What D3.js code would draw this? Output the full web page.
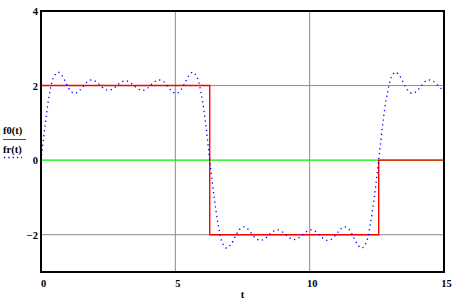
<!DOCTYPE html>
<html><head><meta charset="utf-8">
<script src="https://cdn.jsdelivr.net/npm/d3@7"></script>
<style>
html,body{margin:0;padding:0;background:#fff;}
text{font-family:"Liberation Serif","DejaVu Serif",serif;font-weight:bold;font-size:10.5px;fill:#000;}
</style></head>
<body><svg id="c" width="457" height="301"></svg>
<script>
// Square wave f0(t): step breakpoints
const stepT = [0, 0, 6.28, 6.28, 12.57, 12.57, 15];
const stepV = [1, 2, 2, -2, -2, 0, 0];
// Fourier reconstruction fr(t)
const fourT = [0,0.16,0.31,0.47,0.63,0.79,0.94,1.10,1.26,1.41,1.57,1.73,1.88,2.04,2.20,2.36,2.51,2.67,2.83,2.98,
  3.14,3.30,3.46,3.61,3.77,3.93,4.08,4.24,4.40,4.56,4.71,4.87,5.03,5.18,5.34,5.50,5.65,5.81,5.97,6.13,
  6.28,6.44,6.60,6.75,6.91,7.07,7.23,7.38,7.54,7.70,7.85,8.01,8.17,8.33,8.48,8.64,8.80,8.95,9.11,9.27,
  9.42,9.58,9.74,9.90,10.05,10.21,10.37,10.52,10.68,10.84,11.00,11.15,11.31,11.47,11.62,11.78,11.94,12.10,12.25,12.41,
  12.57,12.72,12.88,13.04,13.19,13.35,13.51,13.67,13.82,13.98,14.14,14.29,14.45,14.61,14.77,14.92,15];
const fourV = [0,0.97,1.75,2.22,2.36,2.26,2.05,1.86,1.79,1.85,1.98,2.11,2.15,2.11,2.01,1.91,1.87,1.91,2.00,2.09,
  2.13,2.09,2.00,1.91,1.87,1.91,2.01,2.11,2.15,2.11,1.98,1.85,1.79,1.86,2.05,2.26,2.36,2.22,1.75,0.97,
  0,-0.97,-1.75,-2.22,-2.36,-2.26,-2.05,-1.86,-1.79,-1.85,-1.98,-2.11,-2.15,-2.11,-2.01,-1.91,-1.87,-1.91,-2.00,-2.09,
  -2.13,-2.09,-2.00,-1.91,-1.87,-1.91,-2.01,-2.11,-2.15,-2.11,-1.98,-1.85,-1.79,-1.86,-2.05,-2.26,-2.36,-2.22,-1.75,-0.97,
  0,0.97,1.75,2.22,2.36,2.26,2.05,1.86,1.79,1.85,1.98,2.11,2.15,2.11,2.01,1.91,1.88];
const zeroT = [0, 15];
const zeroV = [0, 0];
const xTicks = [0, 5, 10, 15];
const yTicks = [-2, 0, 2, 4];
const xGrid = [5, 10];
const yGrid = [-2, 2];
const legendLabels = ["f0(t)", "fr(t)"];
const xTitle = "t";

const svg = d3.select("#c");
const L = 41, R = 444, T = 11, B = 272;
const x = d3.scaleLinear().domain([0, 15]).range([L, R]);
const y = d3.scaleLinear().domain([-3, 4]).range([B, T]);

// grid
const g = svg.append("g");
g.selectAll("line.vx").data(xGrid).join("line")
  .attr("x1", d => x(d)).attr("x2", d => x(d)).attr("y1", T).attr("y2", B)
  .attr("stroke", "#8c8c8c").attr("stroke-width", 1);
g.selectAll("line.hy").data(yGrid).join("line")
  .attr("x1", L).attr("x2", R).attr("y1", d => y(d)).attr("y2", d => y(d))
  .attr("stroke", "#8c8c8c").attr("stroke-width", 1);

svg.append("defs").append("clipPath").attr("id", "clip")
  .append("rect").attr("x", L).attr("y", T).attr("width", R - L).attr("height", B - T);

const stepData = stepT.map((t, i) => [t, stepV[i]]);
const fourData = fourT.map((t, i) => [t, fourV[i]]);
const zeroData = zeroT.map((t, i) => [t, zeroV[i]]);
const lin = d3.line().x(d => x(d[0])).y(d => y(d[1]));

svg.append("path").datum(zeroData)
  .attr("clip-path", "url(#clip)")
  .attr("d", lin)
  .attr("fill", "none").attr("stroke", "#00f000").attr("stroke-width", 1.4);

svg.append("path").datum(stepData)
  .attr("clip-path", "url(#clip)")
  .attr("d", lin)
  .attr("fill", "none").attr("stroke", "#ff0000").attr("stroke-width", 1.4);

svg.append("path").datum(fourData)
  .attr("clip-path", "url(#clip)")
  .attr("d", d3.line().curve(d3.curveCatmullRom.alpha(0.5)).x(d => x(d[0])).y(d => y(d[1])))
  .attr("fill", "none").attr("stroke", "#0000ff").attr("stroke-width", 1.3)
  .attr("stroke-dasharray", "1.3,3.5");

// frame
svg.append("rect").attr("x", L).attr("y", T).attr("width", R - L).attr("height", B - T)
  .attr("fill", "none").attr("stroke", "#000").attr("stroke-width", 2);

// axes labels
const fmt = d => (d < 0 ? "\u2212" : "") + Math.abs(d);
const ax = svg.append("g").attr("transform", `translate(0,${B + 12})`)
  .call(d3.axisBottom(x).tickValues(xTicks).tickSize(0).tickFormat(fmt));
ax.select(".domain").remove();
ax.selectAll("text").attr("dy", 0).attr("dx", 2);
ax.attr("font-family", null).attr("font-size", null);

const ay = svg.append("g").attr("transform", `translate(${L - 2},0)`)
  .call(d3.axisLeft(y).tickValues(yTicks).tickSize(0).tickFormat(fmt));
ay.select(".domain").remove();
ay.selectAll("text").attr("dy", "0.35em").attr("x", -1);
ay.attr("font-family", null).attr("font-size", null);

svg.append("text").attr("x", x(7.5)).attr("y", 298).attr("text-anchor", "middle").text(xTitle);

// legend
const leg = svg.append("g");
leg.append("text").attr("x", 3).attr("y", 134).text(legendLabels[0]);
leg.append("line").attr("x1", 3).attr("x2", 26).attr("y1", 139.5).attr("y2", 139.5)
  .attr("stroke", "#ff0000").attr("stroke-width", 1);
leg.append("text").attr("x", 3).attr("y", 153).text(legendLabels[1]);
leg.append("line").attr("x1", 4).attr("x2", 22).attr("y1", 157.5).attr("y2", 157.5)
  .attr("stroke", "#0000ff").attr("stroke-width", 1.3).attr("stroke-dasharray", "1.3,3");
</script></body></html>
